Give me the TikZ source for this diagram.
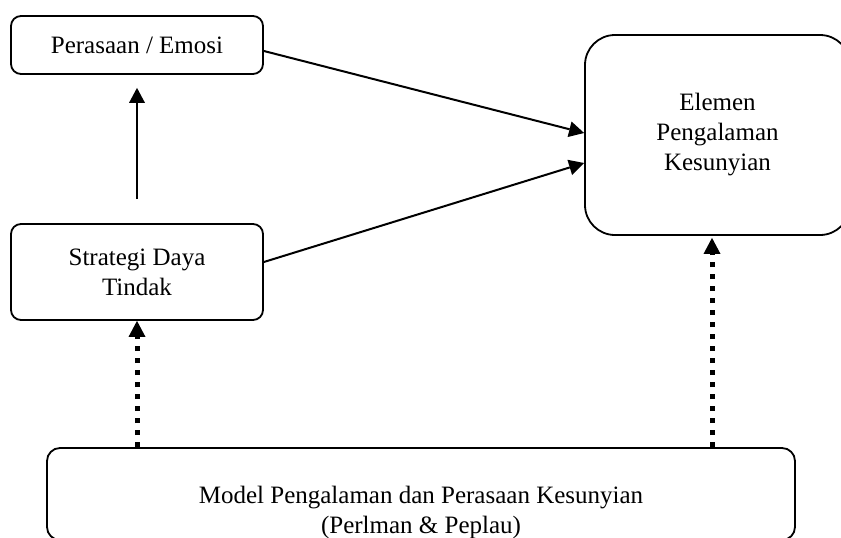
\documentclass[tikz,border=0pt]{standalone}
\usepackage{fontspec}
\setmainfont{Liberation Serif}
\usetikzlibrary{arrows.meta,calc}
\begin{document}
\begin{tikzpicture}[x=1pt,y=-1pt,
  box/.style={draw=black, line width=1.8pt, rounded corners=10pt, align=center,
    font=\fontsize{25}{30}\selectfont, inner sep=0pt},
  txt/.style={align=center, font=\fontsize{25}{30}\selectfont, inner sep=0pt},
  conn/.style={line width=2pt, -{Triangle[length=15pt,width=16pt,line width=0pt]}},
  dotconn/.style={line width=5pt, dash pattern=on 5pt off 7pt,
    -{Triangle[length=16pt,width=17pt,line width=0pt]}}
]
\useasboundingbox (0,0) rectangle (841,538);
\clip (0,0) rectangle (841,538);

\node[box, minimum width=252pt, minimum height=58pt] (pera) at (137,45) {Perasaan / Emosi};
\node[box, minimum width=252pt, minimum height=96pt] (strat) at (137,272) {Strategi Daya\\Tindak};
\node[box, rounded corners=30pt, minimum width=265pt, minimum height=200pt] (elem) at (717.5,135) {Elemen\\Pengalaman\\Kesunyian};
\node[box, rounded corners=13pt, minimum width=748pt, minimum height=92pt] (model) at (421,494) {};
\node[txt] (modeltxt) at (421,512) {Model Pengalaman dan Perasaan Kesunyian\\(Perlman \& Peplau)};

\draw[conn, shorten <=24pt, shorten >=13pt] (strat.north) -- (pera.south);
\draw[conn] ($(pera.east)+(0,6)$) -- ($(elem.west)+(0,-2)$);
\draw[conn] ($(strat.east)+(0,-10)$) -- ($(elem.west)+(0,28)$);

\coordinate (elemin) at ($(elem.south)+(-5.5,2)$);
\draw[dotconn] (model.north -| strat.south) -- (strat.south);
\draw[dotconn] (model.north -| elemin) -- (elemin);
\end{tikzpicture}
\end{document}
